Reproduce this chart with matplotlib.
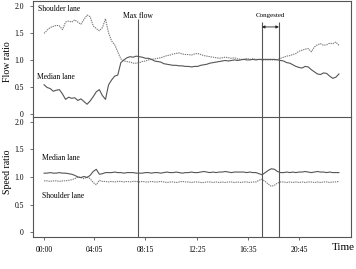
import numpy as np
import matplotlib
matplotlib.use('Agg')
import matplotlib.pyplot as plt

plt.rcParams['font.family'] = ['Liberation Serif', 'DejaVu Serif']

# time in minutes, 15-minute steps from 00:00 to 24:00
minutes = np.arange(0, 1441, 15)

# flow ratio (top panel)
median_flow = [
    0.54, 0.49, 0.47, 0.42, 0.44, 0.45, 0.37, 0.27, 0.31, 0.29, 0.30, 0.25,
    0.28, 0.23, 0.18, 0.24, 0.32, 0.41, 0.45, 0.34, 0.27, 0.54, 0.63, 0.70,
    0.72, 0.95, 1.00, 1.04, 1.06, 1.05, 1.07, 1.06, 1.05, 1.03, 1.03, 1.01,
    0.98, 0.97, 0.96, 0.93, 0.92, 0.91, 0.90, 0.90, 0.89, 0.89, 0.88, 0.88,
    0.87, 0.88, 0.88, 0.90, 0.91, 0.92, 0.94, 0.95, 0.96, 0.97, 0.98, 0.99,
    0.98, 0.99, 1.00, 0.99, 1.00, 1.01, 1.00, 1.00, 1.01, 1.00, 1.01, 1.01,
    1.01, 1.01, 1.01, 1.01, 1.00, 0.99, 0.98, 0.95, 0.94, 0.91, 0.88, 0.86,
    0.85, 0.88, 0.87, 0.82, 0.78, 0.74, 0.73, 0.76, 0.75, 0.70, 0.66, 0.68,
    0.74]
shoulder_flow = [
    1.49, 1.55, 1.60, 1.62, 1.64, 1.63, 1.56, 1.70, 1.72, 1.70, 1.74, 1.70,
    1.66, 1.75, 1.83, 1.80, 1.63, 1.58, 1.54, 1.60, 1.76, 1.50, 1.35, 1.28,
    1.15, 1.02, 0.98, 0.97, 0.96, 0.94, 0.94, 0.95, 0.97, 0.98, 1.00, 1.01,
    1.02, 1.03, 1.04, 1.06, 1.08, 1.09, 1.11, 1.12, 1.13, 1.11, 1.10, 1.10,
    1.09, 1.11, 1.12, 1.10, 1.08, 1.07, 1.06, 1.05, 1.04, 1.03, 1.04, 1.05,
    1.04, 1.03, 1.04, 1.02, 1.01, 1.01, 1.03, 1.01, 1.02, 1.01, 1.01, 1.00,
    1.00, 1.00, 1.00, 1.00, 1.01, 1.03, 1.05, 1.07, 1.08, 1.10, 1.12, 1.16,
    1.18, 1.20, 1.21, 1.15, 1.24, 1.28, 1.30, 1.27, 1.28, 1.31, 1.30, 1.33,
    1.27]

# speed ratio (bottom panel)
median_speed = [
    1.07, 1.07, 1.08, 1.07, 1.07, 1.08, 1.07, 1.07, 1.06, 1.05, 1.03, 1.00,
    0.99, 1.01, 0.99, 1.03, 1.10, 1.14, 1.05, 1.06, 1.08, 1.08, 1.08, 1.09,
    1.08, 1.08, 1.07, 1.08, 1.08, 1.08, 1.07, 1.07, 1.07, 1.08, 1.08, 1.07,
    1.08, 1.08, 1.07, 1.08, 1.09, 1.08, 1.08, 1.09, 1.08, 1.07, 1.08, 1.08,
    1.09, 1.08, 1.08, 1.09, 1.10, 1.09, 1.08, 1.09, 1.08, 1.09, 1.09, 1.10,
    1.09, 1.08, 1.09, 1.09, 1.09, 1.09, 1.08, 1.09, 1.08, 1.08, 1.06, 1.04,
    1.08, 1.12, 1.15, 1.14, 1.10, 1.08, 1.08, 1.09, 1.08, 1.09, 1.08, 1.09,
    1.09, 1.10, 1.09, 1.08, 1.09, 1.10, 1.09, 1.09, 1.08, 1.09, 1.08, 1.08,
    1.08]
shoulder_speed = [
    0.93, 0.93, 0.92, 0.93, 0.93, 0.92, 0.93, 0.93, 0.94, 0.95, 0.97, 1.00,
    0.99, 0.97, 1.00, 0.97, 0.90, 0.86, 0.94, 0.92, 0.92, 0.91, 0.92, 0.91,
    0.92, 0.92, 0.91, 0.92, 0.91, 0.92, 0.92, 0.91, 0.92, 0.91, 0.91, 0.92,
    0.91, 0.91, 0.92, 0.91, 0.90, 0.91, 0.91, 0.90, 0.91, 0.92, 0.91, 0.91,
    0.90, 0.91, 0.91, 0.90, 0.90, 0.91, 0.91, 0.90, 0.91, 0.90, 0.91, 0.90,
    0.91, 0.91, 0.90, 0.91, 0.90, 0.91, 0.91, 0.90, 0.91, 0.91, 0.94, 0.96,
    0.92, 0.87, 0.83, 0.85, 0.89, 0.91, 0.91, 0.90, 0.91, 0.90, 0.91, 0.90,
    0.91, 0.90, 0.91, 0.91, 0.90, 0.91, 0.90, 0.91, 0.91, 0.90, 0.91, 0.91,
    0.92]

tick_minutes = [0, 245, 495, 745, 995, 1245]
tick_labels = ['00:00', '04:05', '08:15', '12:25', '16:35', '20:45']
y_ticks = [0, 0.5, 1.0, 1.5, 2.0]
y_tick_labels = ['0', '0.5', '1.0', '1.5', '2.0']

max_flow_time = 459
congested_start, congested_end = 1064, 1147

W, H = 356, 269
fig = plt.figure(figsize=(W / 100, H / 100), dpi=100)
fig.patch.set_facecolor('white')

left, right = 33 / W, 351 / W
ax1 = fig.add_axes([left, 1 - 117 / H, right - left, 116 / H])
ax2 = fig.add_axes([left, 1 - 237 / H, right - left, 120 / H])

frame = '#555555'
line_dark = '#555555'
line_light = '#7a7a7a'
xlim = (-54, 1499)

for ax in (ax1, ax2):
    ax.set_xlim(*xlim)
    for s in ax.spines.values():
        s.set_color(frame)
        s.set_linewidth(0.8)
    ax.set_yticks(y_ticks)
    ax.set_yticklabels(y_tick_labels)
    ax.tick_params(axis='y', direction='out', length=2.5, width=0.6,
                   color=frame, labelsize=5.5, pad=4)

ax1.set_ylim(-0.056, 2.09)
ax2.set_ylim(-0.09, 2.09)

# top panel
ax1.plot(minutes, shoulder_flow, color=line_light, lw=0.8, ls=(0, (1.2, 0.8)))
ax1.plot(minutes, median_flow, color=line_dark, lw=0.8)
ax1.set_xticks([])
ax1.spines['bottom'].set_visible(False)
ax1.vlines(max_flow_time, -0.056, 1.76, color=frame, lw=0.8)
ax1.vlines([congested_start, congested_end], -0.056, 1.70, color=frame, lw=0.8)
ax1.annotate('', xy=(congested_start, 1.61), xytext=(congested_end, 1.61),
             arrowprops=dict(arrowstyle='<|-|>', color='#222222', lw=0.6,
                             mutation_scale=4, shrinkA=0, shrinkB=0))
ax1.text(max_flow_time, 1.82, 'Max flow', ha='center', va='center', fontsize=5.5)
ax1.text((congested_start + congested_end) / 2, 1.83, 'Congested',
         ha='center', va='center', fontsize=5)
ax1.text(-30, 1.94, 'Shoulder lane', ha='left', va='center', fontsize=5.5)
ax1.text(-34, 0.69, 'Median lane', ha='left', va='center', fontsize=5.5)

# bottom panel
ax2.plot(minutes, shoulder_speed, color=line_light, lw=0.8, ls=(0, (1.2, 0.8)))
ax2.plot(minutes, median_speed, color=line_dark, lw=0.8)
ax2.axvline(max_flow_time, color=frame, lw=0.8)
ax2.axvline(congested_start, color=frame, lw=0.8)
ax2.axvline(congested_end, color=frame, lw=0.8)
ax2.spines['top'].set_visible(True)
ax2.set_xticks(tick_minutes)
ax2.set_xticklabels(tick_labels)
ax2.tick_params(axis='x', direction='out', length=2.5, width=0.6,
                color=frame, labelsize=5.5, pad=4)
ax2.text(-10, 1.35, 'Median lane', ha='left', va='center', fontsize=5.5)
ax2.text(-10, 0.65, 'Shoulder lane', ha='left', va='center', fontsize=5.5)

fig.text(8 / W, 1 - 62 / H, 'Flow ratio', rotation=90, ha='center',
         va='center', fontsize=7)
fig.text(8 / W, 1 - 172 / H, 'Speed ratio', rotation=90, ha='center',
         va='center', fontsize=7)
fig.text(343 / W, 1 - 248 / H, 'Time', ha='center', va='center', fontsize=8)

fig.savefig('out.png', dpi=100, facecolor='white')
